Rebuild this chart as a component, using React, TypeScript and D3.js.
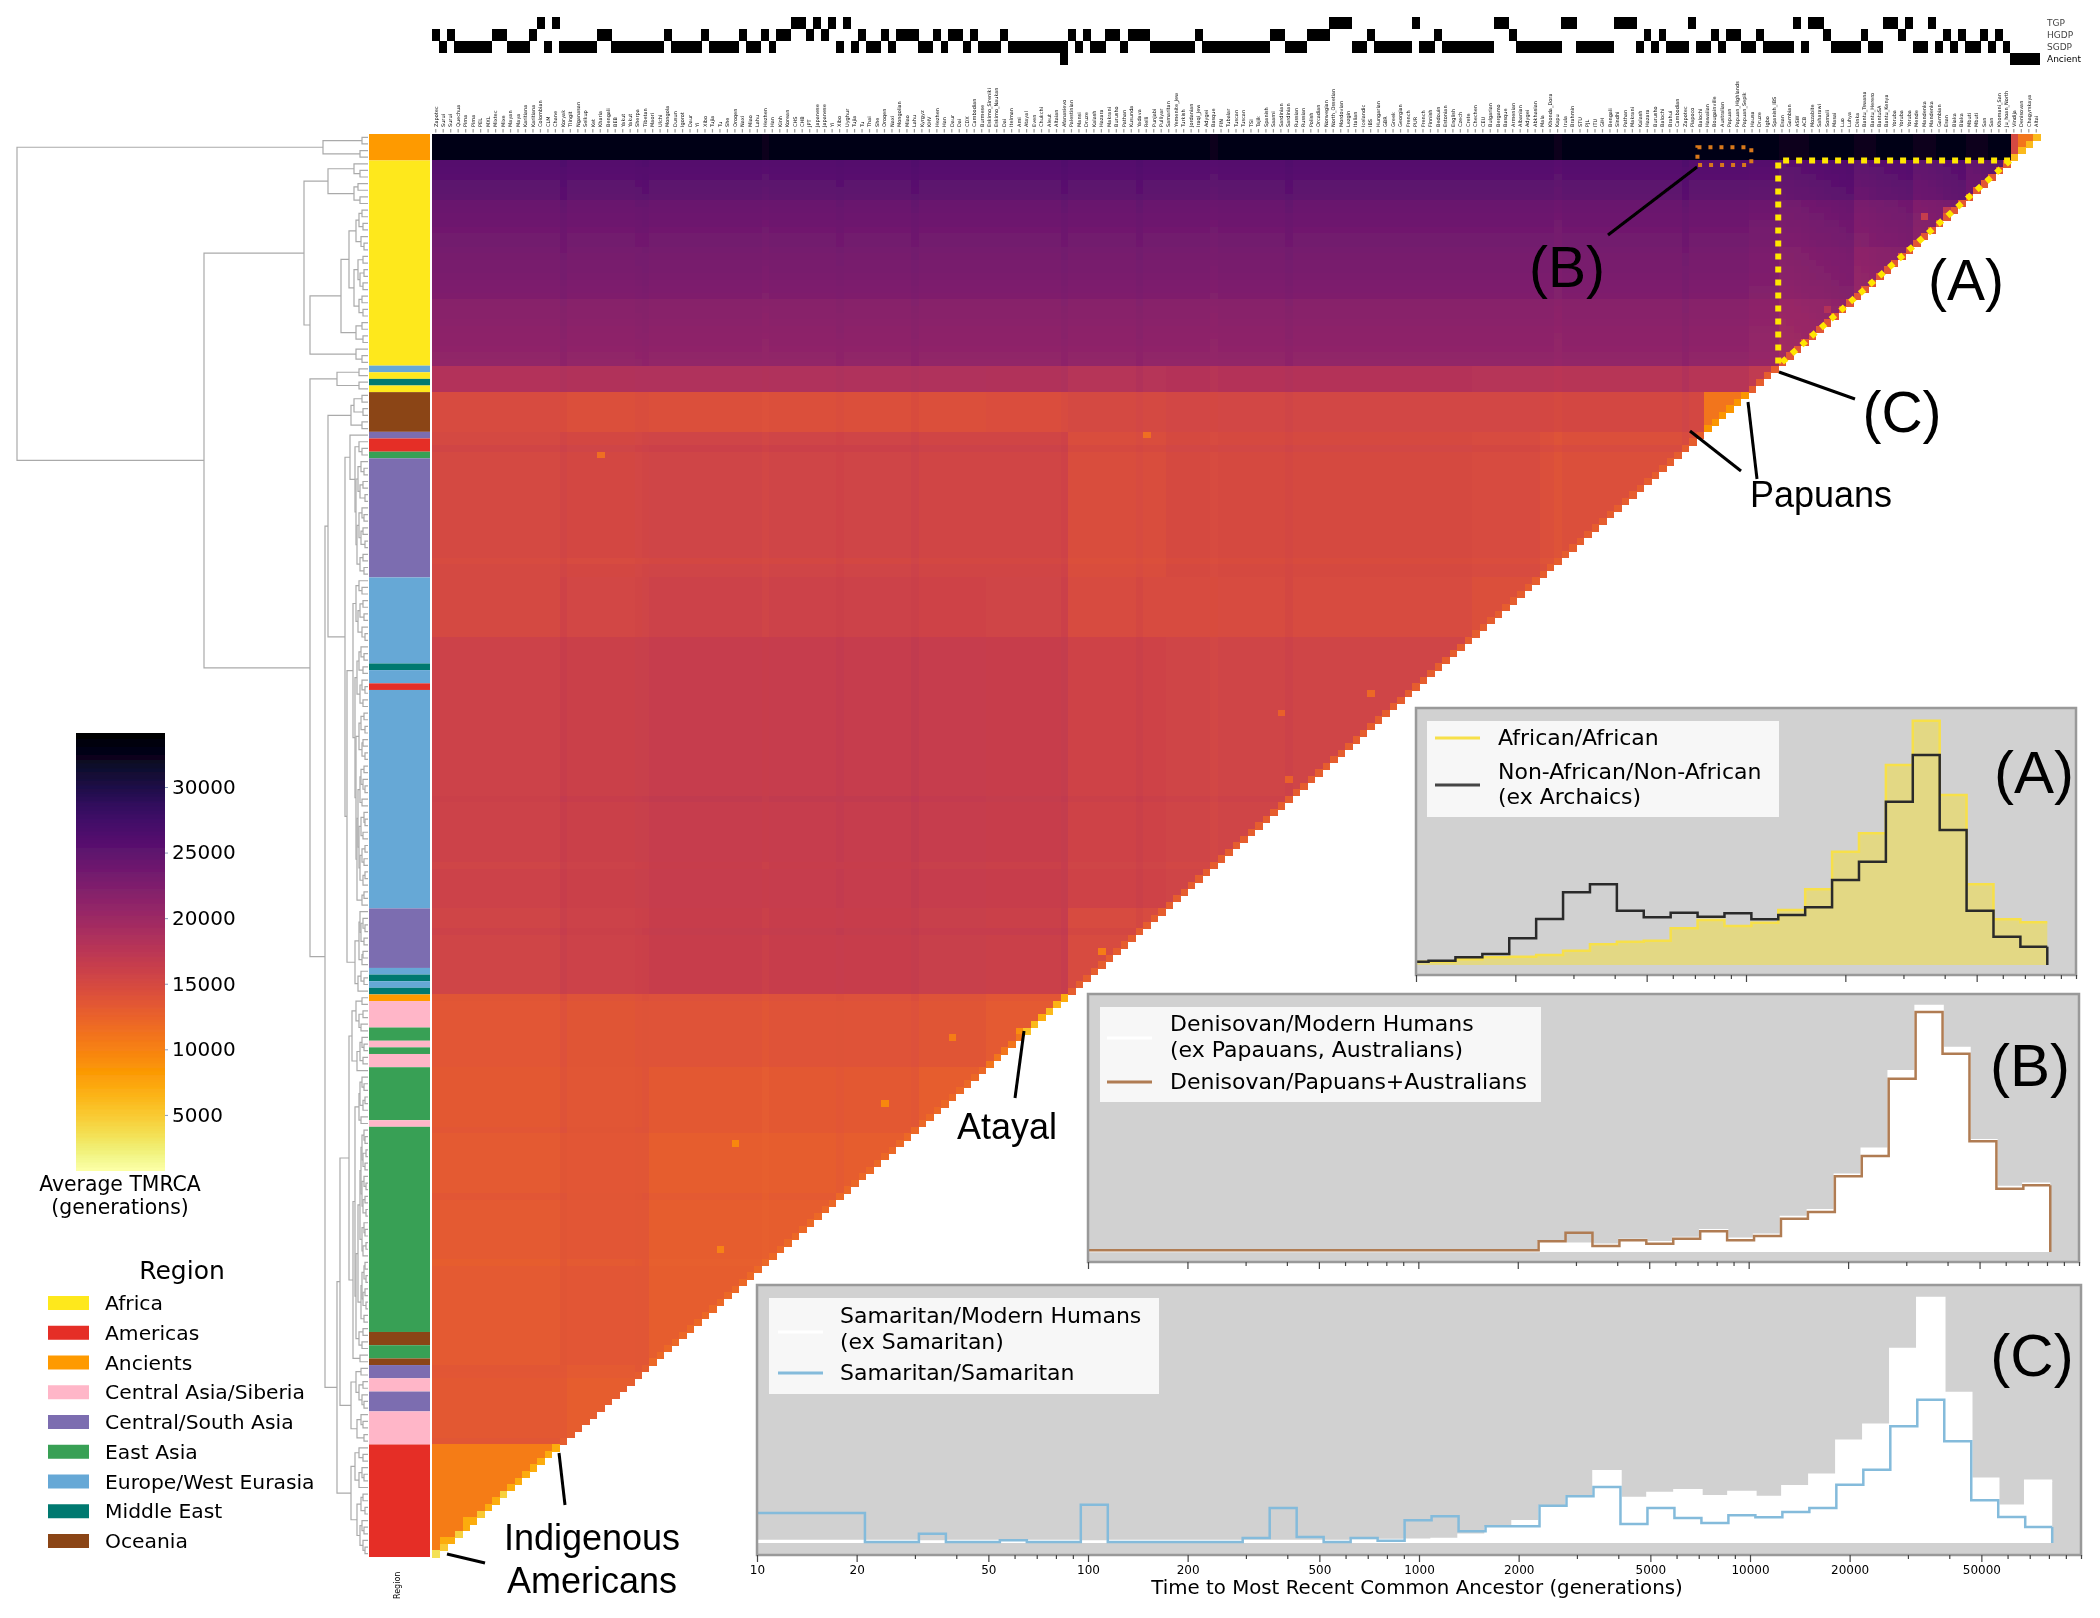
import { useEffect, useRef } from 'react'
import * as d3 from 'd3'

// populations, top row of the matrix first (rightmost column first)
const populations = [
  'Altai', 'Chagyrskaya', 'Denisovan', 'Vindija', 'Ju_hoan_North', 'Khomani_San', 'San_SGDP', 'San_HGDP', 'Mbuti_SGDP', 'Mbuti_HGDP',
  'Biaka_SGDP', 'Biaka_HGDP', 'Esan_TGP', 'Gambian_TGP', 'Mandenka_HGDP', 'Mandenka_SGDP', 'Mende_TGP', 'Yoruba_TGP', 'Yoruba_HGDP', 'Yoruba_SGDP',
  'Bantu_Kenya', 'BantuSA_HGDP', 'Bantu_Herero', 'Bantu_Tswana', 'Dinka_SGDP', 'Luhya_TGP', 'Luo_SGDP', 'Masai_SGDP', 'Somali_SGDP', 'Saharawi_SGDP',
  'Mozabite_HGDP', 'ACB_TGP', 'ASW_TGP', 'Gambian_SGDP', 'Esan_SGDP', 'Spanish_IBS', 'Igbo_SGDP', 'Druze_SGDP', 'Hausa_SGDP',
  'Papuan_Sepik', 'Papuan_Highlands', 'Papuan_HGDP', 'Australian', 'Bougainville', 'Hawaiian', 'Balochi_SGDP', 'Piapoco_SGDP', 'Zapotec_SGDP', 'Cambodian_SGDP',
  'Brahui', 'Balochi_HGDP', 'Burusho_HGDP', 'Hazara_HGDP', 'Kalash_HGDP', 'Makrani_HGDP', 'Pathan_HGDP', 'Sindhi_HGDP', 'Bengali_TGP', 'GIH_TGP', 'ITU_TGP', 'PJL_TGP', 'STU_TGP', 'Brahmin_SGDP', 'Irula_SGDP', 'Kapu_SGDP', 'Khonda_Dora', 'Mala_SGDP',
  'Abkhasian', 'Adygei_HGDP', 'Albanian', 'Armenian', 'Basque_HGDP', 'Bergamo_HGDP', 'Bulgarian', 'CEU_TGP', 'Chechen', 'Crete_SGDP', 'Czech', 'English', 'Estonian',
  'Bedouin_HGDP', 'Finnish_TGP', 'French_HGDP', 'PUR_TGP',
  'French_SGDP', 'Georgian', 'Greek', 'GBR_TGP', 'Hungarian', 'IBS_TGP', 'Icelandic', 'Italian', 'Lezgin', 'Mordovian', 'North_Ossetian', 'Norwegian', 'Orcadian_HGDP', 'Polish', 'Russian_HGDP', 'Russian_SGDP', 'Sardinian_HGDP', 'Sardinian_SGDP', 'Saami', 'Spanish', 'Tajik', 'TSI_TGP', 'Tuscan_HGDP', 'Tuscan_SGDP', 'Tubalar', 'FIN_TGP', 'Basque_SGDP', 'Adygei_SGDP', 'Iraqi_Jew', 'Jordanian', 'Turkish', 'Yemenite_Jew', 'Samaritan',
  'Pulliyar', 'Punjabi_SGDP', 'Relli', 'Yadava', 'Kusunda', 'Pathan_SGDP', 'Burusho_SGDP', 'Makrani_SGDP', 'Hazara_SGDP', 'Kalash_SGDP', 'Druze_HGDP', 'Mansi', 'Palestinian', 'Afanasievo',
  'Altaian', 'Aleut', 'Chukchi', 'Even', 'Atayal', 'Ami', 'Itelman', 'Dai_SGDP', 'Eskimo_Naukan', 'Eskimo_Sireniki',
  'Burmese', 'Cambodian_HGDP', 'CDX_TGP', 'Dai_HGDP', 'Daur_HGDP', 'Han_SGDP', 'Hezhen_HGDP', 'KHV_TGP', 'Kyrgyz',
  'Lahu_HGDP', 'Miao_HGDP', 'Mongolian_HGDP', 'Naxi_HGDP', 'Oroqen_HGDP', 'She_HGDP', 'Thai_SGDP', 'Tu_HGDP', 'Tujia_HGDP', 'Uyghur_HGDP', 'Xibo_HGDP', 'Yi_HGDP',
  'Japanese_HGDP', 'Japanese_SGDP', 'JPT_TGP', 'CHB_TGP', 'CHS_TGP', 'Korean', 'Kinh', 'Han_HGDP', 'Hezhen_SGDP', 'Lahu_SGDP', 'Miao_SGDP', 'Naxi_SGDP', 'Oroqen_SGDP', 'She_SGDP', 'Tu_SGDP', 'Tujia_SGDP', 'Xibo_SGDP', 'Yi_SGDP', 'Daur_SGDP',
  'Igorot', 'Dusun', 'Mongola', 'Ulchi', 'Maori', 'Tibetan', 'Sherpa', 'Yakut_HGDP', 'Yakut_SGDP', 'BEB_TGP', 'Bengali_SGDP', 'Kharia',
  'Ket', 'Selkup', 'Nganasan', 'Tlingit', 'Koryak',
  'Chane', 'CLM_TGP', 'Colombian_HGDP', 'Karitiana_HGDP', 'Karitiana_SGDP', 'Maya_HGDP', 'Mayan_SGDP', 'Mixe_SGDP', 'Mixtec_SGDP', 'MXL_TGP', 'PEL_TGP', 'Pima_HGDP', 'Pima_SGDP', 'Quechua_SGDP', 'Surui_HGDP', 'Surui_SGDP', 'Zapotec_HGDP',
]

const regionNames = ['Africa', 'Americas', 'Ancients', 'Central Asia/Siberia', 'Central/South Asia', 'East Asia', 'Europe/West Eurasia', 'Middle East', 'Oceania']
const regionColors = ['#fee81a', '#e52e25', '#fe9a04', '#ffb6c8', '#7b6db0', '#38a055', '#66a8d6', '#00796f', '#8b4513']

// colour bar next to the matrix, as runs of populations
const regionRuns: [string, number][] = [
  ['Ancients', 4], ['Africa', 31], ['Europe/West Eurasia', 1], ['Africa', 1], ['Middle East', 1], ['Africa', 1], ['Oceania', 6],
  ['Central/South Asia', 1], ['Americas', 2], ['East Asia', 1], ['Central/South Asia', 18], ['Europe/West Eurasia', 13], ['Middle East', 1],
  ['Europe/West Eurasia', 2], ['Americas', 1], ['Europe/West Eurasia', 33], ['Central/South Asia', 9], ['Europe/West Eurasia', 1], ['Middle East', 1],
  ['Europe/West Eurasia', 1], ['Middle East', 1], ['Ancients', 1], ['Central Asia/Siberia', 4], ['East Asia', 2], ['Central Asia/Siberia', 1],
  ['East Asia', 1], ['Central Asia/Siberia', 2], ['East Asia', 8], ['Central Asia/Siberia', 1], ['East Asia', 31], ['Oceania', 2], ['East Asia', 2],
  ['Oceania', 1], ['Central/South Asia', 2], ['Central Asia/Siberia', 2], ['Central/South Asia', 3], ['Central Asia/Siberia', 5], ['Americas', 17],
]

// dataset membership of each column, left to right
const membershipRows = ['TGP', 'HGDP', 'SGDP', 'Ancient']
const membershipRuns: [string, number][] = [
  ['H', 1], ['S', 1], ['H', 1], ['S', 5], ['H', 2], ['S', 3], ['H', 1], ['T', 1], ['S', 1], ['T', 1], ['S', 5], ['H', 2], ['S', 7], ['H', 1], ['S', 4], ['H', 1], ['S', 4], ['H', 1], ['S', 2], ['H', 1], ['S', 1], ['H', 2], ['T', 2], ['H', 1], ['T', 1], ['H', 1], ['T', 1], ['S', 1], ['T', 1], ['S', 1], ['H', 1], ['S', 2], ['H', 1], ['S', 1], ['H', 3], ['S', 2], ['H', 1], ['S', 1], ['H', 2], ['S', 1], ['H', 1], ['S', 3], ['H', 1], ['S', 7], ['SA', 1], ['H', 1], ['S', 1], ['H', 1], ['S', 2],
  ['H', 2], ['S', 1], ['H', 3], ['S', 6], ['H', 1], ['S', 9], ['H', 2], ['S', 3], ['H', 3], ['T', 3], ['S', 2], ['H', 1], ['S', 5], ['T', 1], ['S', 2], ['H', 1], ['S', 7], ['T', 2], ['H', 1], ['S', 6], ['T', 2], ['S', 5], ['T', 3], ['S', 1], ['H', 1], ['S', 1], ['H', 1], ['S', 3], ['T', 1], ['S', 2], ['H', 1], ['S', 1], ['H', 2], ['S', 2], ['H', 1], ['S', 4], ['T', 1], ['S', 1], ['T', 2], ['H', 1], ['S', 4], ['H', 1], ['S', 2], ['T', 2], ['H', 1], ['T', 1], ['S', 2], ['T', 1], ['S', 1], ['H', 1], ['S', 1], ['H', 1], ['S', 2], ['H', 1], ['S', 1], ['H', 1], ['S', 1], ['A', 4],
]

// clusters of populations that share a colour in the matrix
const groupSizes = [4, 6, 7, 8, 10, 4, 6, 22, 9, 41, 13, 11, 9, 36, 12, 17]

// average TMRCA between clusters, upper triangle
const tmrcaTable = [
  [11000, 32500, 32500, 32500, 32500, 32500, 32500, 32500, 32500, 32500, 32500, 32500, 32500, 32500, 32500, 32500],
  [24500, 24800, 25000, 25200, 25300, 25400, 25400, 25400, 25400, 25400, 25400, 25400, 25400, 25400, 25400],
  [22300, 22800, 23200, 23500, 23800, 23800, 23800, 23800, 23800, 23800, 23800, 23800, 23800, 23800],
  [21300, 22000, 22400, 22800, 22800, 22800, 22800, 22800, 22800, 22800, 22800, 22800, 22800],
  [20300, 20900, 21300, 21300, 21300, 21300, 21300, 21300, 21300, 21300, 21300, 21300],
  [17000, 17800, 17800, 17900, 18000, 17900, 18200, 18400, 18400, 18200, 18100],
  [11000, 15200, 15300, 15300, 15000, 14400, 14300, 14300, 14300, 14800],
  [14300, 14700, 14900, 14500, 15400, 15450, 15500, 15100, 15000],
  [14300, 14800, 14800, 15600, 15700, 15800, 15300, 15000],
  [15500, 15700, 16300, 16400, 16500, 16000, 15800],
  [14800, 16100, 16200, 16300, 15800, 15500],
  [13200, 13700, 13800, 13700, 13400],
  [13000, 13300, 13600, 13300],
  [13000, 13400, 13200],
  [13000, 13300],
  [10500],
]
const diagonalByGroup = [6000, 13500, 13500, 13500, 13500, 13000, 8500, 13000, 13000, 13000, 13000, 11000, 12000, 12000, 13000, 7000]

// lighter or darker streaks of single populations
const popStreaks: [number, number][] = [
  [4, 500], [5, 300], [6, 100], [7, -100], [8, -300], [9, -400],
  [10, 500], [11, 350], [12, 200], [14, -150], [15, -300], [16, -400],
  [17, 400], [18, 300], [19, 200], [20, 100], [22, -150], [23, -300], [24, -400],
  [25, 500], [26, 400], [27, 300], [28, 200], [29, 100], [31, -100], [32, -200], [33, -300], [34, -400],
  [47, 400], [64, -300], [100, 300], [110, -200], [120, 300], [130, 300], [150, 300], [160, 200], [170, -200], [186, 250], [187, 150], [197, 350],
]

// single high pairs [row population, column population, value]
const hotPairs: [number, number, number][] = [
  [0, 3, 15000], [1, 3, 15000], [2, 3, 15000],
  [45, 119, 11500], [48, 192, 11500], [84, 89, 12000], [87, 101, 12500], [97, 100, 12500],
  [146, 154, 9500], [152, 174, 9500], [168, 176, 10000], [136, 145, 10500], [123, 125, 10500],
  [12, 15, 16500], [11, 12, 17000], [26, 28, 18000],
  [130, 130, 7000], [131, 131, 6500], [132, 132, 6000], [133, 133, 7000], [134, 134, 6000], [135, 135, 5500], [135, 136, 9000],
  [205, 205, 4500], [208, 208, 5000], [211, 211, 4500], [213, 213, 5000], [214, 214, 3500], [209, 210, 7000], [212, 213, 7000],
]

const colorbarTicks = [5000, 10000, 15000, 20000, 25000, 30000]

// merge height between neighbouring leaves of the dendrogram
const mergeHeights = [
  6, 45, 8, 351, 14, 8, 40, 10, 14, 8,
  64, 6, 9, 5, 12, 7, 4, 19, 5, 10,
  4, 8, 5, 14, 6, 9, 5, 27, 6, 12,
  5, 58, 12, 6, 164, 9, 31, 9, 58, 6,
  14, 5, 17, 6, 40, 18, 9, 6, 13, 7,
  4, 10, 5, 8, 3, 12, 6, 4, 9, 5,
  7, 3, 11, 5, 8, 4, 23, 9, 6, 12,
  5, 8, 4, 10, 6, 3, 15, 7, 4, 9,
  5, 11, 6, 3, 8, 5, 13, 4, 7, 3,
  9, 5, 6, 3, 12, 4, 7, 5, 3, 8,
  6, 10, 4, 3, 7, 5, 9, 3, 6, 4,
  8, 3, 5, 11, 4, 6, 21, 8, 5, 3,
  7, 4, 9, 5, 6, 13, 7, 4, 10, 43,
  6, 12, 5, 9, 7, 16, 6, 4, 8, 5,
  11, 19, 6, 4, 8, 3, 5, 9, 7, 13,
  4, 3, 6, 2, 5, 3, 7, 4, 2, 6,
  3, 5, 2, 8, 4, 3, 6, 2, 5, 10,
  3, 4, 2, 6, 3, 5, 2, 7, 4, 12,
  5, 9, 6, 15, 8, 28, 7, 12, 5, 9,
  6, 4, 17, 7, 5, 11, 4, 31, 9, 5,
  13, 6, 4, 9, 17, 5, 7, 3, 11, 6,
  4, 8, 5, 3,
]

// histograms, one value per log bin
const binCount = 48
const africanAfrican = [0.33, 0.33, 0.57, 0.77, 0.83, 1, 1.43, 2.07, 2.33, 2.43, 3.67, 4.5, 3.9, 4.23, 5.5, 7.57, 11.33, 13.17, 20, 24.43, 17, 8.07, 4.57, 4.27]
const nonAfricanNonAfrican = [0.33, 0.43, 0.77, 1.1, 2.67, 4.6, 7.27, 8.07, 5.43, 4.77, 5.23, 4.83, 5.17, 4.57, 5, 5.77, 8.5, 10.33, 16.33, 21, 13.5, 5.43, 2.83, 1.83]
const denisovanModern = [0.1, 0.1, 0.1, 0.1, 0.1, 0.1, 0.1, 0.1, 0.1, 0.1, 0.1, 0.1, 0.1, 0.1, 0.1, 0.1, 0.1, 1, 0.83, 0.73, 1.2, 0.97, 1.4, 2.17, 1.33, 1.73, 3.5, 4.17, 7.73, 10.33, 18.07, 24.6, 20.4, 11.17, 6.5, 6.83]
const denisovanPapuan = [0.17, 0.17, 0.17, 0.17, 0.17, 0.17, 0.17, 0.17, 0.17, 0.17, 0.17, 0.17, 0.17, 0.17, 0.17, 0.17, 0.17, 1.07, 1.93, 0.6, 1.17, 0.83, 1.33, 2.07, 1.17, 1.6, 3.33, 4, 7.57, 9.6, 17.33, 24, 19.83, 11.07, 6.33, 6.67]
const samaritanModern = [0.2, 0.2, 0.2, 0.2, 0.2, 0.2, 0.15, 0.2, 0.2, 0.2, 0.2, 0.2, 0.15, 0.2, 0.2, 0.2, 0.2, 0.2, 0.2, 0.2, 0.2, 0.2, 0.25, 0.3, 0.33, 0.4, 0.83, 1.5, 2.17, 3.67, 4.67, 7.17, 4.5, 5, 5.27, 4.67, 5.1, 4.6, 5.67, 6.83, 10.23, 11.83, 19.4, 24.5, 15, 6.43, 3.73, 6.23]
const samaritanSamaritan = [3, 3, 3, 3, 0.1, 0.1, 0.93, 0.1, 0.1, 0.27, 0.1, 0.1, 3.83, 0.1, 0.1, 0.1, 0.1, 0.1, 0.5, 3.5, 0.6, 0.1, 0.5, 0.23, 2.27, 2.67, 1.17, 1.67, 1.67, 3.73, 4.67, 5.6, 1.9, 3.5, 2.5, 2, 2.77, 2.57, 3.1, 3.5, 5.83, 7.33, 11.67, 14.33, 10.17, 4.27, 2.6, 1.6]

const labelledTicks = [10, 20, 50, 100, 200, 500, 1000, 2000, 5000, 10000, 20000, 50000]

const panels = [
  {
    id: 'A', lo: 1000, x0: 1416, x1: 2076, top: 708, bottom: 975, baseline: 965, firstBin: 24,
    fill: africanAfrican, fillColor: '#e3d884', fillLine: '#f7e04a', line: nonAfricanNonAfrican, lineColor: '#2a2a2a',
    legend: { x: 1427, y: 721, w: 352, h: 96, keyX: 1435, textX: 1498 },
    rows: [['African/African', 738], ['Non-African/Non-African', 772], ['(ex Archaics)', 797]],
    keys: [['#f7e04a', 738], ['#444444', 785]],
    tag: [2034, 772],
  },
  {
    id: 'B', lo: 100, x0: 1088, x1: 2079, top: 994, bottom: 1262, baseline: 1252, firstBin: 12,
    fill: denisovanModern, fillColor: '#ffffff', fillLine: '#ffffff', line: denisovanPapuan, lineColor: '#b07c52',
    legend: { x: 1100, y: 1007, w: 441, h: 95, keyX: 1107, textX: 1170 },
    rows: [['Denisovan/Modern Humans', 1024], ['(ex Papauans, Australians)', 1050], ['Denisovan/Papuans+Australians', 1082]],
    keys: [['#ffffff', 1038], ['#b07c52', 1082]],
    tag: [2030, 1065],
  },
  {
    id: 'C', lo: 10, x0: 757, x1: 2081, top: 1285, bottom: 1555, baseline: 1543, firstBin: 0,
    fill: samaritanModern, fillColor: '#ffffff', fillLine: '#ffffff', line: samaritanSamaritan, lineColor: '#84bbdb',
    legend: { x: 769, y: 1298, w: 390, h: 96, keyX: 778, textX: 840 },
    rows: [['Samaritan/Modern Humans', 1316], ['(ex Samaritan)', 1342], ['Samaritan/Samaritan', 1373]],
    keys: [['#ffffff', 1332], ['#84bbdb', 1373]],
    tag: [2032, 1355],
  },
]

const PLOT_FONT = '"DejaVu Sans", sans-serif'
const NOTE_FONT = '"Liberation Sans", Arial, sans-serif'
const INK = '#000'

export default function App() {
  const ref = useRef<SVGSVGElement>(null)

  useEffect(() => {
    const svg = d3.select(ref.current)
    svg.selectAll('*').remove()

    const defs = svg.append('defs')
    defs.append('filter').attr('id', 'soft').attr('x', 0).attr('y', 0).attr('width', 1).attr('height', 1)
      .attr('filterUnits', 'objectBoundingBox')
      .append('feGaussianBlur').attr('stdDeviation', 0.75)

    const root = svg.append('g').attr('filter', 'url(#soft)')
    root.append('rect').attr('width', 2100).attr('height', 1618).attr('fill', '#fff')

    const n = populations.length
    const pops = d3.range(n)
    const rowY = d3.scaleBand<number>().domain(pops).range([134, 1557])
    const colX = d3.scaleBand<number>().domain(pops).range([2040, 432])
    const tmrcaColor = d3.scaleSequential((t: number) => d3.interpolateInferno(1 - t)).domain([800, 34040])

    // look up tables
    const groupOf: number[] = []
    groupSizes.forEach((size, g) => d3.range(size).forEach(() => groupOf.push(g)))
    const streak = new Map(popStreaks)
    const hot = new Map(hotPairs.map(([a, b, v]) => [`${a}-${b}`, v]))

    const tmrca = (i: number, k: number) => {
      const h = hot.get(`${i}-${k}`)
      if (h !== undefined) return h
      if (i === k) return diagonalByGroup[groupOf[i]]
      const gi = groupOf[i]
      const gk = groupOf[k]
      return tmrcaTable[gi][gk - gi] + (streak.get(i) ?? 0) + (streak.get(k) ?? 0)
    }

    // Matrix
    const cells = pops.flatMap(i => d3.range(i, n).map(k => ({ i, k })))
    root.append('g').attr('shape-rendering', 'crispEdges')
      .selectAll('rect').data(cells).join('rect')
      .attr('x', d => colX(d.k)!)
      .attr('y', d => rowY(d.i)!)
      .attr('width', colX.bandwidth() + 0.6)
      .attr('height', rowY.bandwidth() + 0.6)
      .attr('fill', d => tmrcaColor(tmrca(d.i, d.k)))

    // Region bar
    const regionColor = d3.scaleOrdinal<string, string>().domain(regionNames).range(regionColors)
    let pos = 0
    const regionBlocks = regionRuns.map(([region, count]) => {
      const block = { region, from: pos, count }
      pos += count
      return block
    })
    root.append('g').selectAll('rect').data(regionBlocks).join('rect')
      .attr('x', 369).attr('width', 61)
      .attr('y', d => rowY(d.from)!)
      .attr('height', d => rowY.bandwidth() * d.count)
      .attr('fill', d => regionColor(d.region))
    root.append('text').text('Region')
      .attr('transform', 'translate(400,1599) rotate(-90)')
      .attr('font-family', PLOT_FONT).attr('font-size', 8).attr('fill', INK)

    // Dendrogram
    const heightX = d3.scaleLinear().domain([0, 351]).range([368, 17])
    const dendroPaths: string[] = []
    const buildTree = (lo: number, hi: number): { y: number, h: number } => {
      if (lo === hi) return { y: rowY(lo)! + rowY.bandwidth() / 2, h: 0 }
      let split = lo
      for (let g = lo; g < hi; g++) if (mergeHeights[g] > mergeHeights[split]) split = g
      const a = buildTree(lo, split)
      const b = buildTree(split + 1, hi)
      const h = mergeHeights[split]
      dendroPaths.push(`M${heightX(a.h)},${a.y}H${heightX(h)}V${b.y}H${heightX(b.h)}`)
      return { y: (a.y + b.y) / 2, h }
    }
    buildTree(0, n - 1)
    root.append('g').selectAll('path').data(dendroPaths).join('path')
      .attr('d', d => d).attr('fill', 'none').attr('stroke', '#aaa').attr('stroke-width', 1.2)

    // Membership grid above the matrix
    const memberY = d3.scaleBand<string>().domain(membershipRows).range([17, 65])
    const memberCode: Record<string, string[]> = { T: ['TGP'], H: ['HGDP'], S: ['SGDP'], A: ['Ancient'], SA: ['SGDP', 'Ancient'] }
    const memberCells: { k: number, row: string }[] = []
    let col = 0
    membershipRuns.forEach(([code, count]) => {
      d3.range(count).forEach(() => {
        memberCode[code].forEach(row => memberCells.push({ k: n - 1 - col, row }))
        col++
      })
    })
    root.append('g').attr('shape-rendering', 'crispEdges')
      .selectAll('rect').data(memberCells).join('rect')
      .attr('x', d => colX(d.k)!)
      .attr('y', d => memberY(d.row)!)
      .attr('width', colX.bandwidth() + 0.4)
      .attr('height', memberY.bandwidth())
      .attr('fill', '#000')
    root.append('g').selectAll('text').data(membershipRows).join('text')
      .text(d => d)
      .attr('x', 2047)
      .attr('y', d => memberY(d)! + memberY.bandwidth() / 2 + 3)
      .attr('font-family', PLOT_FONT).attr('font-size', 9)
      .attr('fill', d => d === 'Ancient' ? '#000' : '#444')

    // Column names
    const names = root.append('g')
    names.selectAll('text').data(pops).join('text')
      .text(k => populations[k].replace(/_(HGDP|SGDP|TGP)$/, ''))
      .attr('transform', k => `translate(${colX(k)! + colX.bandwidth() / 2 + 1.8},127) rotate(-90)`)
      .attr('font-family', PLOT_FONT).attr('font-size', 5).attr('fill', '#000')
    names.selectAll('line').data(pops).join('line')
      .attr('x1', k => colX(k)! + colX.bandwidth() / 2)
      .attr('x2', k => colX(k)! + colX.bandwidth() / 2)
      .attr('y1', 129).attr('y2', 132.5)
      .attr('stroke', '#999').attr('stroke-width', 1.2)

    // Colour scale
    const barY = d3.scaleLinear().domain([800, 34040]).range([1170, 734])
    const barSteps = d3.range(800, 34040, 100)
    root.append('g').attr('shape-rendering', 'crispEdges')
      .selectAll('rect').data(barSteps).join('rect')
      .attr('x', 76).attr('width', 89)
      .attr('y', d => barY(d + 100))
      .attr('height', d => barY(d) - barY(d + 100) + 0.7)
      .attr('fill', d => tmrcaColor(d))
    const barAxis = root.append('g').attr('transform', 'translate(165,0)')
      .call(d3.axisRight(barY).tickValues(colorbarTicks).tickSize(3).tickPadding(4).tickFormat(d3.format('d') as any))
    barAxis.select('.domain').remove()
    barAxis.selectAll('text').attr('font-family', PLOT_FONT).attr('font-size', 20).attr('fill', INK)
    barAxis.selectAll('line').attr('stroke', '#8899bb')
    root.append('g').attr('font-family', PLOT_FONT).attr('font-size', 20.4).attr('fill', INK).attr('text-anchor', 'middle')
      .selectAll('text').data([['Average TMRCA', 1191], ['(generations)', 1214]]).join('text')
      .text(d => d[0]).attr('x', 120).attr('y', d => d[1])

    // Region legend
    const legendY = d3.scalePoint<string>().domain(regionNames).range([1303, 1541])
    root.append('text').text('Region').attr('x', 182).attr('y', 1279).attr('text-anchor', 'middle')
      .attr('font-family', PLOT_FONT).attr('font-size', 25).attr('fill', INK)
    root.append('g').selectAll('rect').data(regionNames).join('rect')
      .attr('x', 48).attr('width', 41).attr('height', 14)
      .attr('y', d => legendY(d)! - 7)
      .attr('fill', d => regionColor(d))
    root.append('g').selectAll('text').data(regionNames).join('text')
      .text(d => d).attr('x', 105).attr('y', d => legendY(d)! + 7)
      .attr('font-family', PLOT_FONT).attr('font-size', 20.3).attr('fill', INK)

    // Dotted outlines on the matrix
    const topCell = rowY(4)!
    const leftCol = colX(34)!
    const endCol = colX(4)! + colX.bandwidth()
    const bottomCell = rowY(34)! + rowY.bandwidth()
    root.append('path')
      .attr('d', `M${endCol},${topCell}H${leftCol}V${bottomCell}L${endCol},${topCell}`)
      .attr('fill', 'none').attr('stroke', '#ffe600').attr('stroke-width', 6).attr('stroke-dasharray', '6 7')
    root.append('rect')
      .attr('x', colX(44)! - 6).attr('y', rowY(2)!)
      .attr('width', colX.bandwidth() * 6 + 9).attr('height', rowY.bandwidth() * 2.7)
      .attr('fill', 'none').attr('stroke', '#d9781a').attr('stroke-width', 4).attr('stroke-dasharray', '4 7')

    // Callouts
    const callouts = [
      [1697, 167, 1608, 235], [1779, 372, 1855, 399], [1748, 402, 1757, 479], [1690, 431, 1741, 471],
      [1024, 1031, 1015, 1098], [559, 1453, 565, 1505], [447, 1554, 485, 1563],
    ]
    root.append('g').selectAll('line').data(callouts).join('line')
      .attr('x1', d => d[0]).attr('y1', d => d[1]).attr('x2', d => d[2]).attr('y2', d => d[3])
      .attr('stroke', '#000').attr('stroke-width', 3)
    const notes: [string, number, number, number][] = [
      ['(B)', 1567, 287, 57], ['(A)', 1966, 300, 57], ['(C)', 1902, 432, 57],
      ['Papuans', 1821, 507, 36], ['Atayal', 1007, 1139, 36],
      ['Indigenous', 592, 1550, 36], ['Americans', 592, 1593, 36],
    ]
    root.append('g').selectAll('text').data(notes).join('text')
      .text(d => d[0]).attr('x', d => d[1]).attr('y', d => d[2])
      .attr('font-size', d => d[3]).attr('text-anchor', 'middle')
      .attr('font-family', NOTE_FONT).attr('fill', INK)

    // Histogram panels
    const binEdges = d3.range(binCount + 1).map(i => 10 ** (1 + i * 3.913 / binCount))
    const decades = [10, 100, 1000, 10000]
    const allTicks = [...decades.flatMap(d => d3.range(1, 10).map(m => d * m)), 100000]

    panels.forEach(p => {
      const g = root.append('g')
      const x = d3.scaleLog().domain([p.lo, 100000]).range([p.x0, p.x1])
      const yMax = (p.baseline - p.top) / 10
      const y = d3.scaleLinear().domain([0, yMax]).range([p.baseline, p.top])

      g.append('rect')
        .attr('x', p.x0).attr('y', p.top).attr('width', p.x1 - p.x0).attr('height', p.bottom - p.top)
        .attr('fill', '#d1d1d1')

      const clipId = `clip-${p.id}`
      defs.append('clipPath').attr('id', clipId).append('rect')
        .attr('x', p.x0).attr('y', p.top).attr('width', p.x1 - p.x0).attr('height', p.bottom - p.top)
      const plot = g.append('g').attr('clip-path', `url(#${clipId})`)

      const stepPoints = (vals: number[]) => [
        ...vals.map((v, i) => [binEdges[p.firstBin + i], v] as [number, number]),
        [binEdges[p.firstBin + vals.length], vals[vals.length - 1]] as [number, number],
      ]
      const line = d3.line<[number, number]>().x(d => x(d[0])).y(d => y(d[1])).curve(d3.curveStepAfter)
      const area = d3.area<[number, number]>().x(d => x(d[0])).y0(y(0)).y1(d => y(d[1])).curve(d3.curveStepAfter)

      plot.append('path').attr('d', area(stepPoints(p.fill))).attr('fill', p.fillColor)
      plot.append('path').attr('d', line(stepPoints(p.fill))).attr('fill', 'none').attr('stroke', p.fillLine).attr('stroke-width', 2.5)
      plot.append('path').attr('d', line(stepPoints(p.line))).attr('fill', 'none').attr('stroke', p.lineColor).attr('stroke-width', 2.5)
      // closing drop of the last bin
      const lastEdge = binEdges[p.firstBin + p.line.length]
      plot.append('line').attr('x1', x(lastEdge)).attr('x2', x(lastEdge))
        .attr('y1', y(p.line[p.line.length - 1])).attr('y2', y(0))
        .attr('stroke', p.lineColor).attr('stroke-width', 2.5)

      g.append('rect')
        .attr('x', p.x0).attr('y', p.top).attr('width', p.x1 - p.x0).attr('height', p.bottom - p.top)
        .attr('fill', 'none').attr('stroke', '#999').attr('stroke-width', 2.5)

      const ticks = allTicks.filter(t => t >= p.lo)
      const axis = g.append('g').attr('transform', `translate(0,${p.bottom})`)
        .call(d3.axisBottom(x).tickValues(ticks).tickSize(4).tickPadding(6)
          .tickFormat((d: any) => (p.id === 'C' && labelledTicks.includes(d)) ? String(d) : ''))
      axis.select('.domain').remove()
      axis.selectAll('line').attr('stroke', '#444').attr('stroke-width', 1.2)
        .attr('y2', (d: any) => labelledTicks.includes(d) ? 7 : 4)
      axis.selectAll('text').attr('font-family', PLOT_FONT).attr('font-size', 12).attr('fill', INK)

      // legend box
      g.append('rect')
        .attr('x', p.legend.x).attr('y', p.legend.y).attr('width', p.legend.w).attr('height', p.legend.h)
        .attr('fill', '#f7f7f7')
      g.append('g').selectAll('line').data(p.keys).join('line')
        .attr('x1', p.legend.keyX).attr('x2', p.legend.keyX + 45)
        .attr('y1', d => d[1] as number).attr('y2', d => d[1] as number)
        .attr('stroke', d => d[0] as string).attr('stroke-width', 3)
      g.append('g').selectAll('text').data(p.rows).join('text')
        .text(d => d[0]).attr('x', p.legend.textX).attr('y', d => (d[1] as number) + 7)
        .attr('font-family', PLOT_FONT).attr('font-size', 22).attr('fill', INK)

      g.append('text').text(`(${p.id})`)
        .attr('x', p.tag[0]).attr('y', p.tag[1] + 21)
        .attr('text-anchor', 'middle').attr('font-size', 60)
        .attr('font-family', NOTE_FONT).attr('fill', INK)
    })

    root.append('text').text('Time to Most Recent Common Ancestor (generations)')
      .attr('x', 1417).attr('y', 1594).attr('text-anchor', 'middle')
      .attr('font-family', PLOT_FONT).attr('font-size', 19.8).attr('fill', INK)
  }, [])

  return (
    <svg
      ref={ref}
      width={2100}
      height={1618}
      style={{ position: 'absolute', left: 0, top: 0, display: 'block', background: '#fff' }}
    />
  )
}
